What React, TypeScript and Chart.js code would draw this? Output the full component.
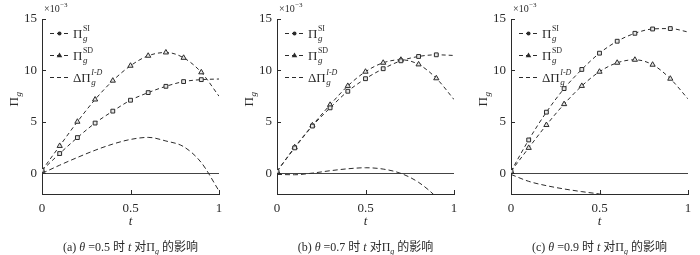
import React, { useEffect, useRef } from "react";
import { Chart, registerables } from "chart.js";
Chart.register(...registerables);

const SERIF = '"Liberation Serif", "Times New Roman", serif';
const INK = "#2b2b2b";

// t values (x axis)
const tValues = [0, 0.1, 0.2, 0.3, 0.4, 0.5, 0.6, 0.7, 0.8, 0.9, 1];
const tDeltaC = [0, 0.1, 0.2, 0.3, 0.4, 0.5, 0.6];
const xTicks = [0, 0.5, 1];
const yTicks = [0, 5, 10, 15];

// (a) theta = 0.5
const siA = [0.3, 1.93, 3.48, 4.89, 6.05, 7.11, 7.85, 8.46, 8.92, 9.11, 9.17];
const sdA = [0.3, 2.67, 5.02, 7.18, 9.01, 10.46, 11.43, 11.75, 11.23, 9.82, 7.5];
const dA = [0, 0.8, 1.55, 2.25, 2.85, 3.3, 3.5, 3.15, 2.6, 1.05, -1.7];

// (b) theta = 0.7
const siB = [0.2, 2.48, 4.6, 6.37, 7.98, 9.2, 10.17, 10.94, 11.36, 11.52, 11.46];
const sdB = [0.2, 2.54, 4.67, 6.66, 8.5, 9.88, 10.75, 11.04, 10.59, 9.24, 7.18];
const dB = [-0.1, -0.13, 0.03, 0.26, 0.45, 0.55, 0.42, 0, -0.87, -2.3, -4.3];

// (c) theta = 0.9
const siC = [0.2, 3.25, 5.95, 8.24, 10.1, 11.68, 12.84, 13.61, 14.03, 14.07, 13.74];
const sdC = [0.2, 2.48, 4.7, 6.73, 8.5, 9.88, 10.75, 11.04, 10.56, 9.2, 7.24];
const dC = [-0.1, -0.77, -1.19, -1.51, -1.77, -2.0, -2.3];

const panels = [
  { key: "a", theta: "0.5", si: siA, sd: sdA, d: dA, dT: tValues, left: 0 },
  { key: "b", theta: "0.7", si: siB, sd: sdB, d: dB, dT: tValues, left: 235 },
  { key: "c", theta: "0.9", si: siC, sd: sdC, d: dC, dT: tDeltaC, left: 469 },
];

const CANVAS_W = 234;
const CANVAS_H = 255;
const AXIS_W = 42;
const PAD_TOP = 19;
const PAD_RIGHT = 15;
const X_AXIS_H = 61;

function drawSymbol(
  ctx: CanvasRenderingContext2D,
  x: number,
  y: number,
  base: string,
  sub: string,
  sup: string,
  size: number,
  supItalic: boolean
) {
  ctx.textAlign = "left";
  ctx.textBaseline = "alphabetic";
  ctx.font = `${size}px ${SERIF}`;
  ctx.fillText(base, x, y);
  const w = ctx.measureText(base).width;
  ctx.font = `italic ${Math.round(size * 0.7)}px ${SERIF}`;
  ctx.fillText(sub, x + w + 0.5, y + 3);
  if (sup) {
    ctx.font = `${supItalic ? "italic " : ""}${Math.round(size * 0.62)}px ${SERIF}`;
    ctx.fillText(sup, x + w + 0.5, y - 6.5);
  }
}

const decor = {
  id: "decor",
  beforeDatasetsDraw(chart: any) {
    const { ctx, chartArea, scales } = chart;
    const y0 = Math.round(scales.y.getPixelForValue(0)) + 0.5;
    ctx.save();
    ctx.strokeStyle = "#444";
    ctx.lineWidth = 1;
    ctx.beginPath();
    ctx.moveTo(chartArea.left, y0);
    ctx.lineTo(scales.x.getPixelForValue(1), y0);
    ctx.stroke();
    ctx.restore();
  },
  afterDraw(chart: any) {
    const { ctx, chartArea, scales } = chart;
    const { left, top, bottom } = chartArea;
    ctx.save();
    ctx.strokeStyle = INK;
    ctx.fillStyle = INK;
    ctx.lineWidth = 1;
    // inward tick marks
    yTicks.forEach((v) => {
      const py = Math.round(scales.y.getPixelForValue(v)) + 0.5;
      ctx.beginPath();
      ctx.moveTo(left, py);
      ctx.lineTo(left + 4, py);
      ctx.stroke();
    });
    xTicks.forEach((v) => {
      const px = Math.round(scales.x.getPixelForValue(v)) + 0.5;
      ctx.beginPath();
      ctx.moveTo(px, bottom);
      ctx.lineTo(px, bottom - 4);
      ctx.stroke();
    });

    // x10^-3 label
    ctx.textAlign = "left";
    ctx.textBaseline = "alphabetic";
    ctx.font = `10px ${SERIF}`;
    ctx.fillText("×10", left + 2, top - 7);
    const w10 = ctx.measureText("×10").width;
    ctx.font = `7px ${SERIF}`;
    ctx.fillText("−3", left + 2 + w10 + 0.5, top - 12);

    // legend
    const items = [
      { sub: "g", sup: "SI", base: "Π", marker: "circle", supItalic: false },
      { sub: "g", sup: "SD", base: "Π", marker: "triangle", supItalic: false },
      { sub: "g", sup: "I-D", base: "ΔΠ", marker: "none", supItalic: true },
    ];
    items.forEach((it, i) => {
      const cy = top + 14 + i * 22;
      const lx0 = left + 8;
      const lx1 = left + 27;
      ctx.save();
      ctx.setLineDash([4, 3]);
      ctx.beginPath();
      ctx.moveTo(lx0, cy + 0.5);
      ctx.lineTo(lx1, cy + 0.5);
      ctx.stroke();
      ctx.restore();
      const mx = (lx0 + lx1) / 2;
      if (it.marker === "circle") {
        ctx.beginPath();
        ctx.arc(mx, cy + 0.5, 2, 0, Math.PI * 2);
        ctx.fill();
      } else if (it.marker === "triangle") {
        ctx.beginPath();
        ctx.moveTo(mx, cy - 2.5);
        ctx.lineTo(mx + 2.8, cy + 2.3);
        ctx.lineTo(mx - 2.8, cy + 2.3);
        ctx.closePath();
        ctx.fill();
      }
      drawSymbol(ctx, left + 31, cy + 4.5, it.base, it.sub, it.sup, 13, it.supItalic);
    });

    // y title
    ctx.save();
    ctx.translate(14, (top + bottom) / 2 - 6);
    ctx.rotate(-Math.PI / 2);
    ctx.textAlign = "left";
    drawSymbol(ctx, -6, 4, "Π", "g", "", 13, false);
    ctx.restore();

    // x title
    ctx.font = `italic 13px ${SERIF}`;
    ctx.textAlign = "center";
    ctx.textBaseline = "middle";
    ctx.fillText("t", (left + chartArea.right) / 2, 222);
    ctx.restore();
  },
};

function Panel({ p }: { p: (typeof panels)[number] }) {
  const ref = useRef<HTMLCanvasElement | null>(null);
  useEffect(() => {
    if (!ref.current) return;
    const lastNoPoint = (r: number) => (c: any) => (c.dataIndex === tValues.length - 1 ? 0 : r);
    const chart = new Chart(ref.current, {
      type: "line",
      data: {
        datasets: [
          {
            label: "SI",
            data: tValues.map((t, i) => ({ x: t, y: p.si[i] })),
            borderColor: INK,
            borderWidth: 1,
            borderDash: [4, 3],
            pointStyle: "rect",
            pointRadius: lastNoPoint(2.7),
            pointBackgroundColor: "#e6e6e6",
            pointBorderColor: INK,
            pointBorderWidth: 1,
            cubicInterpolationMode: "monotone",
          },
          {
            label: "SD",
            data: tValues.map((t, i) => ({ x: t, y: p.sd[i] })),
            borderColor: INK,
            borderWidth: 1,
            borderDash: [4, 3],
            pointStyle: "triangle",
            pointRadius: lastNoPoint(3),
            pointBackgroundColor: "#e6e6e6",
            pointBorderColor: INK,
            pointBorderWidth: 1,
            cubicInterpolationMode: "monotone",
          },
          {
            label: "Delta",
            data: p.dT.map((t, i) => ({ x: t, y: p.d[i] })),
            borderColor: INK,
            borderWidth: 1,
            borderDash: [5, 3],
            pointRadius: 0,
            cubicInterpolationMode: "monotone",
          },
        ],
      },
      options: {
        animation: false,
        responsive: false,
        events: [],
        layout: { padding: { top: PAD_TOP, right: PAD_RIGHT, left: 0, bottom: 0 } },
        plugins: { legend: { display: false }, tooltip: { enabled: false } },
        scales: {
          x: {
            type: "linear",
            min: 0,
            max: 1,
            afterBuildTicks: (s: any) => {
              s.ticks = xTicks.map((v) => ({ value: v }));
            },
            afterFit: (s: any) => {
              s.height = X_AXIS_H;
            },
            grid: { display: false, drawTicks: false },
            border: { display: true, color: INK, width: 1 },
            ticks: {
              color: INK,
              padding: 7,
              maxRotation: 0,
              font: { family: SERIF, size: 13 },
              callback: (v: any) => String(v),
            },
          },
          y: {
            type: "linear",
            min: -2,
            max: 15,
            afterBuildTicks: (s: any) => {
              s.ticks = yTicks.map((v) => ({ value: v }));
            },
            afterFit: (s: any) => {
              s.width = AXIS_W;
            },
            grid: { display: false, drawTicks: false },
            border: { display: true, color: INK, width: 1 },
            ticks: {
              color: INK,
              padding: 5,
              font: { family: SERIF, size: 13 },
              callback: (v: any) => String(v),
            },
          },
        },
      },
      plugins: [decor],
    } as any);
    return () => chart.destroy();
  }, [p]);

  const plotLeft = p.left + AXIS_W;
  const plotW = CANVAS_W - AXIS_W - PAD_RIGHT;
  return (
    <>
      <canvas
        ref={ref}
        width={CANVAS_W}
        height={CANVAS_H}
        style={{ position: "absolute", left: p.left, top: 0, width: CANVAS_W, height: CANVAS_H, display: "block" }}
      />
      <div
        style={{
          position: "absolute",
          left: plotLeft - 20,
          width: plotW + 40,
          top: 239,
          height: 16,
          lineHeight: "16px",
          textAlign: "center",
          fontFamily: '"Liberation Serif", "Noto Sans CJK SC", serif',
          fontSize: 12,
          color: INK,
          whiteSpace: "nowrap",
        }}
      >
        ({p.key}) <i>θ</i> =
        {p.theta} 时 <i>t</i> 对Π<sub style={{ fontSize: 8, fontStyle: "italic", verticalAlign: "-3px", lineHeight: 0 }}>g</sub> 的影响
      </div>
    </>
  );
}

export default function App() {
  return (
    <div
      style={{
        position: "fixed",
        left: 0,
        top: 0,
        width: 700,
        height: 255,
        background: "#fff",
        overflow: "hidden",
      }}
    >
      {panels.map((p) => (
        <Panel key={p.key} p={p} />
      ))}
    </div>
  );
}
